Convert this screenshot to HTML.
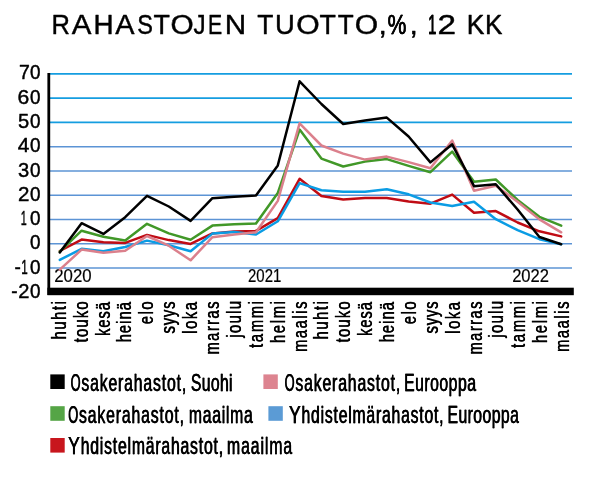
<!DOCTYPE html>
<html><head><meta charset="utf-8"><title>Rahastojen tuotto</title>
<style>
html,body{margin:0;padding:0;background:#fff;}
body{width:600px;height:477px;overflow:hidden;}
svg{display:block;will-change:transform;}
text{font-family:"Liberation Sans",sans-serif;fill:#000;stroke:#000;font-kerning:none;stroke-linejoin:round;}
</style></head><body>
<svg width="600" height="477" viewBox="0 0 600 477">
<rect x="0" y="0" width="600" height="477" fill="#ffffff"/>

<g font-size="28.2" stroke-width="0.45">
<text x="51.53" y="34.3" textLength="18.43" lengthAdjust="spacingAndGlyphs">R</text>
<text x="71.77" y="34.3" textLength="19.67" lengthAdjust="spacingAndGlyphs">A</text>
<text x="93.54" y="34.3" textLength="20.10" lengthAdjust="spacingAndGlyphs">H</text>
<text x="115.17" y="34.3" textLength="19.26" lengthAdjust="spacingAndGlyphs">A</text>
<text x="137.16" y="34.3" textLength="15.70" lengthAdjust="spacingAndGlyphs">S</text>
<text x="153.62" y="34.3" textLength="16.37" lengthAdjust="spacingAndGlyphs">T</text>
<text x="170.41" y="34.3" textLength="23.19" lengthAdjust="spacingAndGlyphs">O</text>
<text x="193.45" y="34.3" textLength="12.13" lengthAdjust="spacingAndGlyphs">J</text>
<text x="208.08" y="34.3" textLength="14.21" lengthAdjust="spacingAndGlyphs">E</text>
<text x="224.79" y="34.3" textLength="21.40" lengthAdjust="spacingAndGlyphs">N</text>
<text x="257.23" y="34.3" textLength="16.15" lengthAdjust="spacingAndGlyphs">T</text>
<text x="275.11" y="34.3" textLength="19.78" lengthAdjust="spacingAndGlyphs">U</text>
<text x="296.20" y="34.3" textLength="23.42" lengthAdjust="spacingAndGlyphs">O</text>
<text x="319.62" y="34.3" textLength="16.37" lengthAdjust="spacingAndGlyphs">T</text>
<text x="337.64" y="34.3" textLength="15.93" lengthAdjust="spacingAndGlyphs">T</text>
<text x="354.80" y="34.3" textLength="23.42" lengthAdjust="spacingAndGlyphs">O</text>
<text x="378.52" y="34.3" textLength="8.35" lengthAdjust="spacingAndGlyphs">,</text>
<text x="387.48" y="34.3" textLength="18.70" lengthAdjust="spacingAndGlyphs">%</text>
<text x="387.83" y="34.3" textLength="18.70" lengthAdjust="spacingAndGlyphs">%</text>
<text x="409.52" y="34.3" textLength="8.35" lengthAdjust="spacingAndGlyphs">,</text>
<text x="427.89" y="34.3" textLength="8.26" lengthAdjust="spacingAndGlyphs">1</text>
<text x="428.24" y="34.3" textLength="8.26" lengthAdjust="spacingAndGlyphs">1</text>
<text x="437.55" y="34.3" textLength="18.50" lengthAdjust="spacingAndGlyphs">2</text>
<text x="466.86" y="34.3" textLength="17.61" lengthAdjust="spacingAndGlyphs">K</text>
<text x="485.09" y="34.3" textLength="17.38" lengthAdjust="spacingAndGlyphs">K</text>
</g>
<g>
<line x1="49" x2="572" y1="73.90" y2="73.90" stroke="#149de0" stroke-width="1.65"/>
<line x1="49" x2="572" y1="98.17" y2="98.17" stroke="#149de0" stroke-width="1.65"/>
<line x1="49" x2="572" y1="122.44" y2="122.44" stroke="#149de0" stroke-width="1.65"/>
<line x1="49" x2="572" y1="146.71" y2="146.71" stroke="#5c94d5" stroke-width="1.4"/>
<line x1="49" x2="572" y1="170.98" y2="170.98" stroke="#5c94d5" stroke-width="1.4"/>
<line x1="49" x2="572" y1="195.25" y2="195.25" stroke="#5c94d5" stroke-width="1.4"/>
<line x1="49" x2="572" y1="219.52" y2="219.52" stroke="#5c94d5" stroke-width="1.4"/>
<line x1="49" x2="572" y1="243.79" y2="243.79" stroke="#5c94d5" stroke-width="1.4"/>
<line x1="49" x2="572" y1="268.06" y2="268.06" stroke="#5c94d5" stroke-width="1.4"/>
</g>
<g font-size="20.2" stroke-width="0.45">
<text x="18.93" y="79.4" textLength="10.83" lengthAdjust="spacingAndGlyphs">7</text>
<text x="30.09" y="79.4" textLength="10.53" lengthAdjust="spacingAndGlyphs">0</text>
<text x="17.55" y="103.7" textLength="11.75" lengthAdjust="spacingAndGlyphs">6</text>
<text x="30.09" y="103.7" textLength="10.53" lengthAdjust="spacingAndGlyphs">0</text>
<text x="18.02" y="127.9" textLength="11.20" lengthAdjust="spacingAndGlyphs">5</text>
<text x="30.09" y="127.9" textLength="10.53" lengthAdjust="spacingAndGlyphs">0</text>
<text x="17.84" y="152.2" textLength="11.64" lengthAdjust="spacingAndGlyphs">4</text>
<text x="30.09" y="152.2" textLength="10.53" lengthAdjust="spacingAndGlyphs">0</text>
<text x="18.06" y="176.5" textLength="11.20" lengthAdjust="spacingAndGlyphs">3</text>
<text x="30.09" y="176.5" textLength="10.53" lengthAdjust="spacingAndGlyphs">0</text>
<text x="17.99" y="200.8" textLength="11.41" lengthAdjust="spacingAndGlyphs">2</text>
<text x="30.09" y="200.8" textLength="10.53" lengthAdjust="spacingAndGlyphs">0</text>
<text x="20.70" y="225.0" textLength="6.00" lengthAdjust="spacingAndGlyphs">1</text>
<text x="30.09" y="225.0" textLength="10.53" lengthAdjust="spacingAndGlyphs">0</text>
<text x="30.09" y="249.3" textLength="10.53" lengthAdjust="spacingAndGlyphs">0</text>
<text x="14.48" y="273.6" textLength="6.34" lengthAdjust="spacingAndGlyphs">-</text>
<text x="21.13" y="273.6" textLength="6.51" lengthAdjust="spacingAndGlyphs">1</text>
<text x="30.09" y="273.6" textLength="10.53" lengthAdjust="spacingAndGlyphs">0</text>
<text x="11.28" y="297.8" textLength="6.34" lengthAdjust="spacingAndGlyphs">-</text>
<text x="18.21" y="297.8" textLength="11.17" lengthAdjust="spacingAndGlyphs">2</text>
<text x="30.09" y="297.8" textLength="10.53" lengthAdjust="spacingAndGlyphs">0</text>
</g>
<g font-size="18.2" stroke-width="0.2">
<text x="54.26" y="282" textLength="37.30" lengthAdjust="spacingAndGlyphs">2020</text>
<text x="248.05" y="282" textLength="33.28" lengthAdjust="spacingAndGlyphs">2021</text>
<text x="512.17" y="282" textLength="36.87" lengthAdjust="spacingAndGlyphs">2022</text>
</g>
<g fill="none" stroke-linejoin="round" stroke-linecap="round">
<polyline points="59.8,251.0 81.6,239.6 103.4,242.3 125.2,242.9 147.0,234.9 168.8,240.1 190.6,243.9 212.4,233.4 234.2,231.5 256.0,230.9 277.8,218.1 299.6,178.8 321.4,196.1 343.2,199.4 365.0,198.1 386.8,198.1 408.6,201.4 430.4,203.7 452.2,194.6 474.0,212.8 495.8,211.1 517.6,222.5 539.4,231.3 561.2,236.4" stroke="#c00c14" stroke-width="2.5"/>
<polyline points="59.8,259.9 81.6,248.8 103.4,251.2 125.2,247.0 147.0,240.6 168.8,245.2 190.6,251.3 212.4,233.6 234.2,232.0 256.0,234.5 277.8,221.3 299.6,183.1 321.4,190.3 343.2,191.8 365.0,191.8 386.8,189.3 408.6,194.3 430.4,202.5 452.2,205.9 474.0,201.7 495.8,219.2 517.6,230.2 539.4,239.2 561.2,244.2" stroke="#0a9ce4" stroke-width="2.5"/>
<polyline points="59.8,251.7 81.6,230.7 103.4,236.8 125.2,240.4 147.0,223.8 168.8,233.4 190.6,239.7 212.4,225.6 234.2,224.3 256.0,223.5 277.8,193.0 299.6,129.6 321.4,158.6 343.2,166.5 365.0,161.6 386.8,159.1 408.6,165.9 430.4,172.2 452.2,151.6 474.0,181.8 495.8,179.5 517.6,200.0 539.4,216.8 561.2,225.7" stroke="#419828" stroke-width="2.5"/>
<polyline points="59.8,269.7 81.6,249.6 103.4,252.8 125.2,250.7 147.0,236.0 168.8,245.7 190.6,260.3 212.4,237.2 234.2,234.5 256.0,232.2 277.8,200.9 299.6,123.3 321.4,145.5 343.2,153.6 365.0,159.6 386.8,156.6 408.6,162.1 430.4,168.3 452.2,140.5 474.0,190.8 495.8,185.8 517.6,201.7 539.4,219.4 561.2,232.3" stroke="#db808c" stroke-width="2.5"/>
<polyline points="59.8,252.4 81.6,223.2 103.4,233.9 125.2,217.2 147.0,195.8 168.8,206.5 190.6,220.9 212.4,198.2 234.2,196.8 256.0,195.5 277.8,165.4 299.6,81.3 321.4,104.0 343.2,124.0 365.0,120.6 386.8,117.6 408.6,136.5 430.4,162.4 452.2,144.3 474.0,186.2 495.8,184.3 517.6,209.5 539.4,237.0 561.2,244.2" stroke="#000000" stroke-width="2.5"/>
</g>
<rect x="47.4" y="73" width="2.8" height="222" fill="#000"/>
<rect x="47.4" y="287.7" width="526.4" height="7.5" fill="#000"/>
<g font-size="19.4" stroke-width="0.2">
<text transform="translate(65.8,338.7) rotate(-90) scale(0.76,1)" x="-1.25" y="0" letter-spacing="2.129">huhti</text>
<text transform="translate(65.8,338.7) rotate(-90) scale(0.76,1)" x="-0.82" y="0" letter-spacing="2.129">huhti</text>
<text transform="translate(87.7,342.3) rotate(-90) scale(0.76,1)" x="-0.19" y="0" letter-spacing="1.580">touko</text>
<text transform="translate(87.7,342.3) rotate(-90) scale(0.76,1)" x="0.23" y="0" letter-spacing="1.580">touko</text>
<text transform="translate(109.6,335.2) rotate(-90) scale(0.76,1)" x="-1.21" y="0" letter-spacing="1.218">kesä</text>
<text transform="translate(109.6,335.2) rotate(-90) scale(0.76,1)" x="-0.79" y="0" letter-spacing="1.218">kesä</text>
<text transform="translate(131.4,341.5) rotate(-90) scale(0.76,1)" x="-1.25" y="0" letter-spacing="1.373">heinä</text>
<text transform="translate(131.4,341.5) rotate(-90) scale(0.76,1)" x="-0.82" y="0" letter-spacing="1.373">heinä</text>
<text transform="translate(153.3,323.8) rotate(-90) scale(0.76,1)" x="-0.72" y="0" letter-spacing="2.038">elo</text>
<text transform="translate(153.3,323.8) rotate(-90) scale(0.76,1)" x="-0.30" y="0" letter-spacing="2.038">elo</text>
<text transform="translate(175.2,333.3) rotate(-90) scale(0.76,1)" x="-0.44" y="0" letter-spacing="1.089">syys</text>
<text transform="translate(175.2,333.3) rotate(-90) scale(0.76,1)" x="-0.02" y="0" letter-spacing="1.089">syys</text>
<text transform="translate(197.1,333.0) rotate(-90) scale(0.76,1)" x="-1.21" y="0" letter-spacing="2.050">loka</text>
<text transform="translate(197.1,333.0) rotate(-90) scale(0.76,1)" x="-0.79" y="0" letter-spacing="2.050">loka</text>
<text transform="translate(219.0,353.8) rotate(-90) scale(0.76,1)" x="-1.19" y="0" letter-spacing="1.886">marras</text>
<text transform="translate(219.0,353.8) rotate(-90) scale(0.76,1)" x="-0.77" y="0" letter-spacing="1.886">marras</text>
<text transform="translate(240.8,338.2) rotate(-90) scale(0.76,1)" x="0.57" y="0" letter-spacing="1.775">joulu</text>
<text transform="translate(240.8,338.2) rotate(-90) scale(0.76,1)" x="0.99" y="0" letter-spacing="1.775">joulu</text>
<text transform="translate(262.7,347.8) rotate(-90) scale(0.76,1)" x="-0.19" y="0" letter-spacing="2.174">tammi</text>
<text transform="translate(262.7,347.8) rotate(-90) scale(0.76,1)" x="0.23" y="0" letter-spacing="2.174">tammi</text>
<text transform="translate(284.6,342.2) rotate(-90) scale(0.76,1)" x="-1.25" y="0" letter-spacing="2.208">helmi</text>
<text transform="translate(284.6,342.2) rotate(-90) scale(0.76,1)" x="-0.82" y="0" letter-spacing="2.208">helmi</text>
<text transform="translate(306.5,351.2) rotate(-90) scale(0.76,1)" x="-1.19" y="0" letter-spacing="2.062">maalis</text>
<text transform="translate(306.5,351.2) rotate(-90) scale(0.76,1)" x="-0.77" y="0" letter-spacing="2.062">maalis</text>
<text transform="translate(328.4,338.7) rotate(-90) scale(0.76,1)" x="-1.25" y="0" letter-spacing="2.129">huhti</text>
<text transform="translate(328.4,338.7) rotate(-90) scale(0.76,1)" x="-0.82" y="0" letter-spacing="2.129">huhti</text>
<text transform="translate(350.2,342.3) rotate(-90) scale(0.76,1)" x="-0.19" y="0" letter-spacing="1.580">touko</text>
<text transform="translate(350.2,342.3) rotate(-90) scale(0.76,1)" x="0.23" y="0" letter-spacing="1.580">touko</text>
<text transform="translate(372.1,335.2) rotate(-90) scale(0.76,1)" x="-1.21" y="0" letter-spacing="1.218">kesä</text>
<text transform="translate(372.1,335.2) rotate(-90) scale(0.76,1)" x="-0.79" y="0" letter-spacing="1.218">kesä</text>
<text transform="translate(394.0,341.5) rotate(-90) scale(0.76,1)" x="-1.25" y="0" letter-spacing="1.373">heinä</text>
<text transform="translate(394.0,341.5) rotate(-90) scale(0.76,1)" x="-0.82" y="0" letter-spacing="1.373">heinä</text>
<text transform="translate(415.9,323.8) rotate(-90) scale(0.76,1)" x="-0.72" y="0" letter-spacing="2.038">elo</text>
<text transform="translate(415.9,323.8) rotate(-90) scale(0.76,1)" x="-0.30" y="0" letter-spacing="2.038">elo</text>
<text transform="translate(437.8,333.3) rotate(-90) scale(0.76,1)" x="-0.44" y="0" letter-spacing="1.089">syys</text>
<text transform="translate(437.8,333.3) rotate(-90) scale(0.76,1)" x="-0.02" y="0" letter-spacing="1.089">syys</text>
<text transform="translate(459.6,333.0) rotate(-90) scale(0.76,1)" x="-1.21" y="0" letter-spacing="2.050">loka</text>
<text transform="translate(459.6,333.0) rotate(-90) scale(0.76,1)" x="-0.79" y="0" letter-spacing="2.050">loka</text>
<text transform="translate(481.5,353.8) rotate(-90) scale(0.76,1)" x="-1.19" y="0" letter-spacing="1.886">marras</text>
<text transform="translate(481.5,353.8) rotate(-90) scale(0.76,1)" x="-0.77" y="0" letter-spacing="1.886">marras</text>
<text transform="translate(503.4,338.2) rotate(-90) scale(0.76,1)" x="0.57" y="0" letter-spacing="1.775">joulu</text>
<text transform="translate(503.4,338.2) rotate(-90) scale(0.76,1)" x="0.99" y="0" letter-spacing="1.775">joulu</text>
<text transform="translate(525.3,347.8) rotate(-90) scale(0.76,1)" x="-0.19" y="0" letter-spacing="2.174">tammi</text>
<text transform="translate(525.3,347.8) rotate(-90) scale(0.76,1)" x="0.23" y="0" letter-spacing="2.174">tammi</text>
<text transform="translate(547.2,342.2) rotate(-90) scale(0.76,1)" x="-1.25" y="0" letter-spacing="2.208">helmi</text>
<text transform="translate(547.2,342.2) rotate(-90) scale(0.76,1)" x="-0.82" y="0" letter-spacing="2.208">helmi</text>
<text transform="translate(569.0,351.2) rotate(-90) scale(0.76,1)" x="-1.19" y="0" letter-spacing="2.062">maalis</text>
<text transform="translate(569.0,351.2) rotate(-90) scale(0.76,1)" x="-0.77" y="0" letter-spacing="2.062">maalis</text>
</g>
<g font-size="23.2" stroke-width="0.25">
<rect x="50.3" y="374.4" width="14.4" height="14.6" fill="#000000"/>
<text x="70.42" y="391.0" textLength="9.97" lengthAdjust="spacingAndGlyphs">O</text>
<text x="70.82" y="391.0" textLength="9.97" lengthAdjust="spacingAndGlyphs">O</text>
<text transform="translate(0,391.0) scale(0.68,1)" x="119.33" y="0" letter-spacing="1.259">sakerahastot,</text>
<text transform="translate(0,391.0) scale(0.68,1)" x="119.92" y="0" letter-spacing="1.259">sakerahastot,</text>
<text transform="translate(0,391.0) scale(0.68,1)" x="280.40" y="0" letter-spacing="0.500">Suohi</text>
<text transform="translate(0,391.0) scale(0.68,1)" x="280.98" y="0" letter-spacing="0.500">Suohi</text>
<rect x="263.4" y="374.4" width="14.4" height="14.6" fill="#dd8490"/>
<text x="284.42" y="391.0" textLength="9.97" lengthAdjust="spacingAndGlyphs">O</text>
<text x="284.82" y="391.0" textLength="9.97" lengthAdjust="spacingAndGlyphs">O</text>
<text transform="translate(0,391.0) scale(0.68,1)" x="434.04" y="0" letter-spacing="1.259">sakerahastot,</text>
<text transform="translate(0,391.0) scale(0.68,1)" x="434.63" y="0" letter-spacing="1.259">sakerahastot,</text>
<text transform="translate(0,391.0) scale(0.68,1)" x="593.96" y="0" letter-spacing="0.736">Eurooppa</text>
<text transform="translate(0,391.0) scale(0.68,1)" x="594.55" y="0" letter-spacing="0.736">Eurooppa</text>
<rect x="50.3" y="406.2" width="14.4" height="14.6" fill="#55a546"/>
<text x="68.12" y="422.6" textLength="9.97" lengthAdjust="spacingAndGlyphs">O</text>
<text x="68.52" y="422.6" textLength="9.97" lengthAdjust="spacingAndGlyphs">O</text>
<text transform="translate(0,422.6) scale(0.68,1)" x="115.95" y="0" letter-spacing="1.259">sakerahastot,</text>
<text transform="translate(0,422.6) scale(0.68,1)" x="116.54" y="0" letter-spacing="1.259">sakerahastot,</text>
<text transform="translate(0,422.6) scale(0.68,1)" x="277.41" y="0" letter-spacing="1.069">maailma</text>
<text transform="translate(0,422.6) scale(0.68,1)" x="278.00" y="0" letter-spacing="1.069">maailma</text>
<rect x="268.4" y="406.2" width="14.4" height="14.6" fill="#5b9bd5"/>
<text x="288.74" y="422.6" textLength="11.72" lengthAdjust="spacingAndGlyphs">Y</text>
<text x="289.14" y="422.6" textLength="11.72" lengthAdjust="spacingAndGlyphs">Y</text>
<text transform="translate(0,422.6) scale(0.68,1)" x="443.08" y="0" letter-spacing="1.145">hdistelmärahastot,</text>
<text transform="translate(0,422.6) scale(0.68,1)" x="443.66" y="0" letter-spacing="1.145">hdistelmärahastot,</text>
<text transform="translate(0,422.6) scale(0.68,1)" x="657.78" y="0" letter-spacing="0.631">Eurooppa</text>
<text transform="translate(0,422.6) scale(0.68,1)" x="658.37" y="0" letter-spacing="0.631">Eurooppa</text>
<rect x="50.3" y="438.0" width="14.4" height="14.6" fill="#c8161d"/>
<text x="67.94" y="454.4" textLength="11.72" lengthAdjust="spacingAndGlyphs">Y</text>
<text x="68.34" y="454.4" textLength="11.72" lengthAdjust="spacingAndGlyphs">Y</text>
<text transform="translate(0,454.4) scale(0.68,1)" x="118.37" y="0" letter-spacing="1.171">hdistelmärahastot,</text>
<text transform="translate(0,454.4) scale(0.68,1)" x="118.96" y="0" letter-spacing="1.171">hdistelmärahastot,</text>
<text transform="translate(0,454.4) scale(0.68,1)" x="333.58" y="0" letter-spacing="1.364">maailma</text>
<text transform="translate(0,454.4) scale(0.68,1)" x="334.17" y="0" letter-spacing="1.364">maailma</text>
</g>
</svg>
</body></html>
